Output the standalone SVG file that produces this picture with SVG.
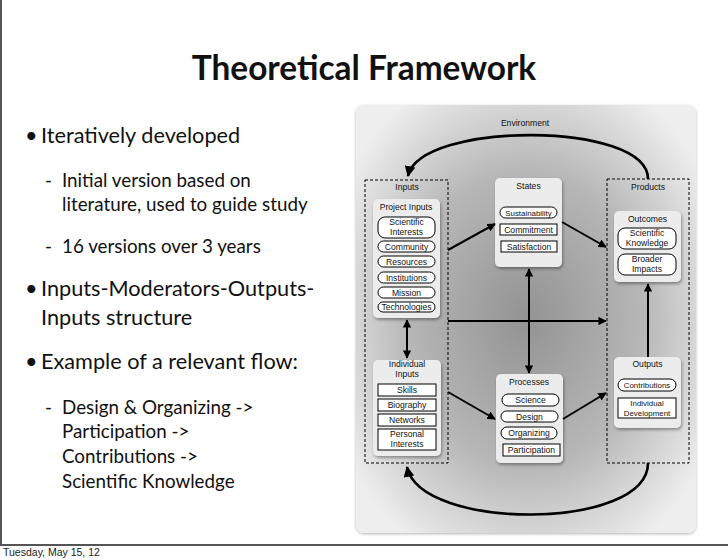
<svg xmlns="http://www.w3.org/2000/svg" width="728" height="560" viewBox="0 0 728 560">
<defs>
<radialGradient id="bg" cx="0.5" cy="0.5" r="0.62">
<stop offset="0" stop-color="#939393"/>
<stop offset="0.55" stop-color="#b6b6b6"/>
<stop offset="1" stop-color="#eeeeee"/>
</radialGradient>
<filter id="sh" x="-20%" y="-20%" width="140%" height="140%">
<feDropShadow dx="1" dy="2" stdDeviation="1.5" flood-color="#000" flood-opacity="0.35"/>
</filter>
<filter id="psh" x="-5%" y="-5%" width="110%" height="110%">
<feDropShadow dx="0" dy="1" stdDeviation="1.5" flood-color="#000" flood-opacity="0.3"/>
</filter>
<marker id="ah" viewBox="0 0 10 10" refX="9" refY="5" markerWidth="4.2" markerHeight="4.2" orient="auto-start-reverse">
<path d="M0,0 L10,5 L0,10 z" fill="#000"/>
</marker>
</defs>
<style>
.slide{font-family:Lato,"Open Sans","Liberation Sans",sans-serif;fill:#111}
.b1{font-size:21.7px}
.b2{font-size:18.8px}
.d{font-family:"Liberation Sans",Arial,sans-serif;font-size:8.6px;fill:#111;text-anchor:middle}
.s{font-size:7.9px}
.card{fill:#ececec;filter:url(#sh)}
.pill{fill:#fff;stroke:#000;stroke-width:1}
.box{fill:#fff;stroke:#000;stroke-width:1}
.dash{fill:none;stroke:#000;stroke-width:1;stroke-dasharray:3 2}
.con{fill:none;stroke:#000;stroke-width:2}
.curve{fill:none;stroke:#000;stroke-width:2.6}
</style>
<rect width="728" height="560" fill="#fff"/>
<path d="M1,0 V545 H728" fill="none" stroke="#555" stroke-width="2"/>
<text x="3" y="556" font-family="'Liberation Sans',Arial,sans-serif" font-size="10.5" fill="#222">Tuesday, May 15, 12</text>

<g id="slide-text" class="slide">
<text x="364" y="80" font-size="33.4" font-weight="bold" text-anchor="middle">Theoretical Framework</text>
<text x="25" y="143" class="b1">•</text>
<text x="41" y="143" class="b1">Iteratively developed</text>
<text x="45" y="187" class="b2">-</text>
<text x="62" y="187" class="b2">Initial version based on</text>
<text x="62" y="211" class="b2">literature, used to guide study</text>
<text x="45" y="253" class="b2">-</text>
<text x="62" y="253" class="b2">16 versions over 3 years</text>
<text x="25" y="296" class="b1">•</text>
<text x="41" y="296" class="b1">Inputs-Moderators-Outputs-</text>
<text x="41" y="325" class="b1">Inputs structure</text>
<text x="25" y="369" class="b1">•</text>
<text x="41" y="369" class="b1">Example of a relevant flow:</text>
<text x="45" y="414" class="b2">-</text>
<text x="62" y="414" class="b2">Design &amp; Organizing -&gt;</text>
<text x="62" y="438" class="b2">Participation -&gt;</text>
<text x="62" y="463" class="b2">Contributions -&gt;</text>
<text x="62" y="488" class="b2">Scientific Knowledge</text>
</g>

<g id="panel">
<rect x="356" y="105" width="340" height="428" rx="8" fill="url(#bg)" filter="url(#psh)"/>
<text x="525" y="126" class="d">Environment</text>
</g>

<g id="inputs">
<rect x="365" y="180" width="83" height="283" class="dash"/>
<text x="407" y="190" class="d">Inputs</text>
</g>
<g id="project-inputs">
<rect x="373" y="199" width="67" height="119" rx="5" class="card"/>
<text x="406" y="210" class="d">Project Inputs</text>
<rect x="378" y="217" width="57" height="21" rx="7" class="pill"/>
<text x="406.5" y="225" class="d">Scientific</text>
<text x="406.5" y="235" class="d">Interests</text>
<rect x="378" y="241" width="57" height="11" rx="5.5" class="pill"/>
<text x="406.5" y="249.5" class="d">Community</text>
<rect x="378" y="256" width="57" height="11" rx="5.5" class="pill"/>
<text x="406.5" y="265" class="d" font-size="10">Resources</text>
<rect x="378" y="272" width="57" height="11" rx="5.5" class="pill"/>
<text x="406.5" y="280.8" class="d" font-size="9.3">Institutions</text>
<rect x="378" y="287" width="57" height="11" rx="5.5" class="pill"/>
<text x="406.5" y="295.8" class="d" font-size="9.2">Mission</text>
<rect x="378" y="302" width="57" height="10" rx="5" class="pill"/>
<text x="406.5" y="309.5" class="d" font-size="7.4">Technologies</text>
</g>
<g id="individual-inputs">
<rect x="373" y="360" width="68" height="96" rx="5" class="card"/>
<text x="407" y="367" class="d">Individual</text>
<text x="407" y="377" class="d">Inputs</text>
<rect x="378" y="384" width="58" height="12" class="box"/>
<text x="407" y="393" class="d">Skills</text>
<rect x="378" y="399" width="58" height="12" class="box"/>
<text x="407" y="408" class="d">Biography</text>
<rect x="378" y="414" width="58" height="12" class="box"/>
<text x="407" y="423" class="d">Networks</text>
<rect x="378" y="429" width="58" height="21" class="box"/>
<text x="407" y="437" class="d">Personal</text>
<text x="407" y="447" class="d">Interests</text>
</g>

<g id="states">
<rect x="495" y="178" width="67" height="89" rx="5" class="card"/>
<text x="528.5" y="189" class="d">States</text>
<rect x="500" y="207" width="57" height="11" rx="5.5" class="pill"/>
<text x="528.5" y="215.5" class="d s">Sustainability</text>
<rect x="500" y="224" width="57" height="11" class="box"/>
<text x="528.5" y="232.8" class="d">Commitment</text>
<rect x="501" y="241" width="56" height="11" class="box"/>
<text x="529" y="249.8" class="d">Satisfaction</text>
</g>

<g id="processes">
<rect x="496" y="374" width="67" height="89" rx="5" class="card"/>
<text x="529" y="385" class="d">Processes</text>
<rect x="502" y="394" width="57" height="12" rx="6" class="pill"/>
<text x="530.5" y="403" class="d">Science</text>
<rect x="501" y="411" width="57" height="11" rx="5.5" class="pill"/>
<text x="529.5" y="419.8" class="d">Design</text>
<rect x="501" y="427" width="56" height="12" rx="6" class="pill"/>
<text x="529" y="436" class="d">Organizing</text>
<rect x="503" y="444" width="57" height="12" class="box"/>
<text x="531.5" y="453" class="d">Participation</text>
</g>

<g id="products">
<rect x="607" y="179" width="82" height="284" class="dash"/>
<text x="648" y="190" class="d">Products</text>
</g>
<g id="outcomes">
<rect x="614" y="211" width="67" height="71" rx="5" class="card"/>
<text x="647.5" y="222" class="d">Outcomes</text>
<rect x="618" y="228" width="58" height="21" rx="7" class="pill"/>
<text x="647" y="236" class="d">Scientific</text>
<text x="647" y="246" class="d">Knowledge</text>
<rect x="618" y="254" width="58" height="21" rx="7" class="pill"/>
<text x="647" y="262" class="d">Broader</text>
<text x="647" y="272" class="d">Impacts</text>
</g>
<g id="outputs">
<rect x="614" y="357" width="67" height="71" rx="5" class="card"/>
<text x="647.5" y="367" class="d">Outputs</text>
<rect x="618" y="379" width="58" height="12" rx="6" class="pill"/>
<text x="647" y="388" class="d s">Contributions</text>
<rect x="618" y="398" width="58" height="20" class="box"/>
<text x="647" y="406" class="d s">Individual</text>
<text x="647" y="415.5" class="d s">Development</text>
</g>

<g id="connectors">
<path d="M648,179 C648,121 420,121 408,176" class="curve" marker-end="url(#ah)"/>
<path d="M648,463 C648,531 420,531 407,467" class="curve" marker-end="url(#ah)"/>
<line x1="407" y1="320" x2="407" y2="358" class="con" marker-start="url(#ah)" marker-end="url(#ah)"/>
<line x1="648" y1="357" x2="648" y2="284" class="con" marker-end="url(#ah)"/>
<line x1="448" y1="250" x2="495" y2="224" class="con" marker-end="url(#ah)"/>
<line x1="562" y1="222" x2="606" y2="247" class="con" marker-end="url(#ah)"/>
<line x1="448" y1="392" x2="495" y2="419" class="con" marker-end="url(#ah)"/>
<line x1="563" y1="419" x2="606" y2="393" class="con" marker-end="url(#ah)"/>
<line x1="448" y1="321" x2="606" y2="321" class="con" marker-end="url(#ah)"/>
<line x1="529" y1="269" x2="529" y2="373" class="con" marker-start="url(#ah)" marker-end="url(#ah)"/>
</g>
</svg>
